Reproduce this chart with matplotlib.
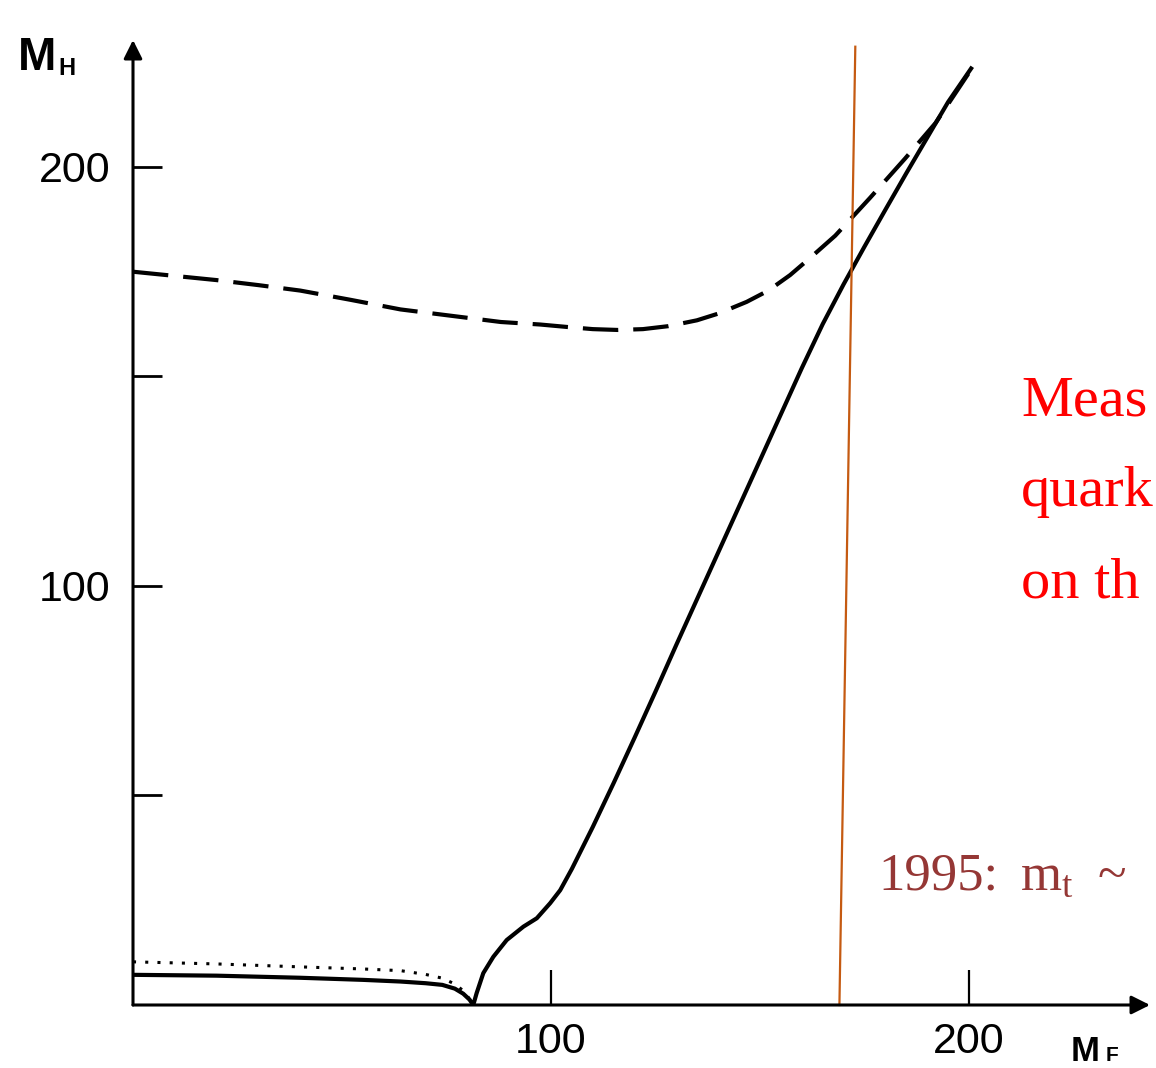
import matplotlib
matplotlib.use("Agg")
import matplotlib.pyplot as plt

# values (M_F on x, M_H on y)
solid_x = [0, 20, 40, 55, 64, 70, 74, 77, 79, 80.5, 81.4, 82.2, 83.8, 86.2, 89.4, 93.4,
           96.6, 99.8, 102.2, 105, 110, 115, 120, 125, 130, 135, 140, 145, 150, 155,
           160, 165, 170, 175, 180, 185, 190, 195, 200.5]
solid_y = [7.2, 7.0, 6.5, 6.0, 5.6, 5.2, 4.8, 3.9, 2.7, 1.3, 0, 2.8, 7.6, 11.5, 15.5, 18.7,
           20.7, 24.3, 27.4, 32.5, 42.5, 53, 63.8, 74.8, 86, 97, 108, 119, 130, 141,
           152, 162.5, 172, 181, 189.8, 198.5, 207, 215.5, 223.5]

dashed_x = [0, 10, 20, 30, 40, 52, 64, 76, 88, 97.4, 104, 110, 116, 122, 128, 134.9, 140,
            146.8, 152, 157.2, 162, 168, 176.3, 184.7, 192, 201]
dashed_y = [175, 174, 173, 171.8, 170.5, 168.3, 166, 164.5, 163, 162.4, 161.8, 161.3, 161.1,
            161.3, 162, 163.4, 165, 167.8, 170.5, 174.2, 178.3, 183.6, 192.6, 202, 210.5, 224]

dotted_x = [0, 20, 40, 55, 64, 70, 74, 77, 79.5, 81]
dotted_y = [10.3, 9.8, 9.1, 8.6, 8.2, 7.3, 6.4, 5.0, 3.0, 0.5]

# 1995 top mass marker line (drawn slightly slanted in the source)
mt_x = [169.0, 172.8]
mt_y = [0, 228.7]

y_ticks = [50, 100, 150, 200]
y_labels = ["", "100", "", "200"]
x_ticks = [100, 200]
x_labels = ["100", "200"]

W, H = 1156, 1068
plt.rcParams["mathtext.fontset"] = "custom"
plt.rcParams["mathtext.rm"] = "Liberation Serif"
plt.rcParams["mathtext.it"] = "Liberation Serif:italic"

fig = plt.figure(figsize=(W / 100, H / 100), dpi=100)
ax = fig.add_axes([133 / W, (H - 1005) / H, (1150 - 133) / W, (1005 - 40) / H])
ax.set_xlim(0, 243.3)
ax.set_ylim(0, 230.3)
for s in ax.spines.values():
    s.set_visible(False)

# axes with arrow heads
arr = dict(arrowstyle="-|>", lw=2.2, color="black", mutation_scale=28, shrinkA=0, shrinkB=0)
ax.annotate("", xy=(1, 0), xytext=(0, 0), xycoords="axes fraction", arrowprops=arr,
            annotation_clip=False)
ax.annotate("", xy=(0, 1), xytext=(0, 0), xycoords="axes fraction", arrowprops=arr,
            annotation_clip=False)

ax.plot(solid_x, solid_y, color="black", lw=3, solid_joinstyle="round")
ax.plot(dashed_x, dashed_y, color="black", lw=3, linestyle=(0, (8.5, 3.6)))
ax.plot(dotted_x, dotted_y, color="black", lw=2.2, linestyle=(0, (1, 3)))
ax.plot(mt_x, mt_y, color="#C55A11", lw=1.6, clip_on=False)

tick_font = dict(family="Liberation Sans", size=31)
ax.set_yticks(y_ticks)
ax.set_yticklabels(y_labels, **tick_font)
ax.set_xticks(x_ticks)
ax.set_xticklabels(x_labels, **tick_font)
ax.tick_params(axis="y", direction="in", length=21, width=2, pad=16)
ax.tick_params(axis="x", direction="in", length=25, width=1.6, pad=12)

# axis names
fig.text(18 / W, 1 - 70 / H, "M", family="Liberation Sans", weight="bold", size=33)
fig.text(58 / W, 1 - 75 / H, "H", family="Liberation Sans", weight="bold", size=17)
fig.text(1071 / W, 1 - 1061 / H, "M", family="Liberation Sans", weight="bold", size=25)
fig.text(1106 / W, 1 - 1061 / H, "F", family="Liberation Sans", weight="bold", size=15)

# annotations (cut off at the right edge of the slide)
red_font = dict(family="Liberation Serif", size=42, color="#FF0000", va="baseline")
fig.text(1021 / W, 1 - 415 / H, "Meas", **red_font)
fig.text(1021 / W, 1 - 506 / H, "quark", **red_font)
fig.text(1021 / W, 1 - 597 / H, "on th", **red_font)

brown_font = dict(family="Liberation Serif", size=38, color="#953735", va="baseline")
fig.text(878 / W, 1 - 890 / H, "1995:", **brown_font)
fig.text(1020 / W, 1 - 890 / H, r"m$_\mathrm{t}$", **brown_font)
fig.text(1098 / W, 1 - 890 / H, "~", **brown_font)

fig.savefig("out.png", dpi=100)
